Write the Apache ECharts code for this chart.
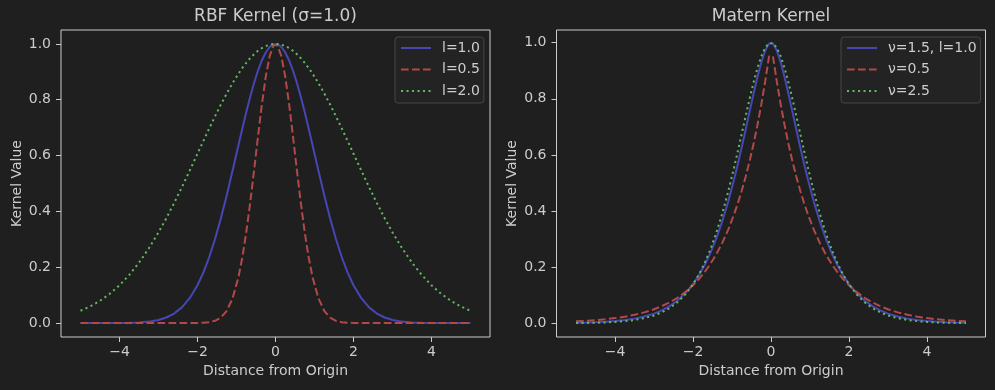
<!DOCTYPE html>
<html>
<head>
<meta charset="utf-8">
<script src="https://cdn.jsdelivr.net/npm/echarts@6/dist/echarts.min.js"></script>
<style>
html,body{margin:0;padding:0;background:#1f1f1f;}
#chart{width:995px;height:390px;}
</style>
</head>
<body>
<div id="chart"></div>
<script>
// x positions (distance from origin)
const xs = [-5.0,-4.75,-4.5,-4.25,-4.0,-3.75,-3.5,-3.25,-3.0,-2.8,-2.6,-2.4,-2.2,-2.0,-1.85,-1.7,-1.55,-1.4,-1.25,-1.1,-0.95,-0.85,-0.75,-0.65,-0.55,-0.45,-0.35,-0.25,-0.15,-0.05,
            0.05,0.15,0.25,0.35,0.45,0.55,0.65,0.75,0.85,0.95,1.1,1.25,1.4,1.55,1.7,1.85,2.0,2.2,2.4,2.6,2.8,3.0,3.25,3.5,3.75,4.0,4.25,4.5,4.75,5.0];

// RBF kernel, l = 1.0
const rbfL1 = [0,0,0,0.0001,0.0003,0.0009,0.0022,0.0051,0.0111,0.0198,0.0340,0.0561,0.0889,0.1353,0.1806,0.2357,0.3008,0.3753,0.4578,0.5461,0.6368,0.6968,0.7548,0.8096,0.8596,0.9037,0.9406,0.9692,0.9888,0.9988,
               0.9988,0.9888,0.9692,0.9406,0.9037,0.8596,0.8096,0.7548,0.6968,0.6368,0.5461,0.4578,0.3753,0.3008,0.2357,0.1806,0.1353,0.0889,0.0561,0.0340,0.0198,0.0111,0.0051,0.0022,0.0009,0.0003,0.0001,0,0,0];
// RBF kernel, l = 0.5
const rbfL05 = [0,0,0,0,0,0,0,0,0,0,0,0,0.0001,0.0003,0.0011,0.0031,0.0082,0.0198,0.0439,0.0889,0.1645,0.2357,0.3247,0.4296,0.5461,0.6670,0.7827,0.8825,0.9560,0.9950,
                0.9950,0.9560,0.8825,0.7827,0.6670,0.5461,0.4296,0.3247,0.2357,0.1645,0.0889,0.0439,0.0198,0.0082,0.0031,0.0011,0.0003,0.0001,0,0,0,0,0,0,0,0,0,0,0,0];
// RBF kernel, l = 2.0
const rbfL2 = [0.0439,0.0596,0.0796,0.1046,0.1353,0.1724,0.2163,0.2671,0.3247,0.3753,0.4296,0.4868,0.5461,0.6065,0.6519,0.6968,0.7406,0.7827,0.8226,0.8596,0.8933,0.9137,0.9321,0.9486,0.9629,0.9750,0.9848,0.9922,0.9972,0.9997,
               0.9997,0.9972,0.9922,0.9848,0.9750,0.9629,0.9486,0.9321,0.9137,0.8933,0.8596,0.8226,0.7827,0.7406,0.6968,0.6519,0.6065,0.5461,0.4868,0.4296,0.3753,0.3247,0.2671,0.2163,0.1724,0.1353,0.1046,0.0796,0.0596,0.0439];

// Matern kernel, nu = 1.5, l = 1.0
const matern15 = [0.0017,0.0025,0.0036,0.0053,0.0078,0.0113,0.0165,0.0238,0.0343,0.0458,0.0609,0.0807,0.1065,0.1397,0.1707,0.2076,0.2515,0.3031,0.3632,0.4323,0.5104,0.5672,0.6272,0.6896,0.7532,0.8162,0.8760,0.9294,0.9716,0.9965,
                  0.9965,0.9716,0.9294,0.8760,0.8162,0.7532,0.6896,0.6272,0.5672,0.5104,0.4323,0.3632,0.3031,0.2515,0.2076,0.1707,0.1397,0.1065,0.0807,0.0609,0.0458,0.0343,0.0238,0.0165,0.0113,0.0078,0.0053,0.0036,0.0025,0.0017];
// Matern kernel, nu = 0.5
const matern05 = [0.0067,0.0087,0.0111,0.0143,0.0183,0.0235,0.0302,0.0388,0.0498,0.0608,0.0743,0.0907,0.1108,0.1353,0.1572,0.1827,0.2123,0.2466,0.2865,0.3329,0.3867,0.4274,0.4724,0.5221,0.5770,0.6376,0.7047,0.7788,0.8607,0.9512,
                  0.9512,0.8607,0.7788,0.7047,0.6376,0.5770,0.5221,0.4724,0.4274,0.3867,0.3329,0.2865,0.2466,0.2123,0.1827,0.1572,0.1353,0.1108,0.0907,0.0743,0.0608,0.0498,0.0388,0.0302,0.0235,0.0183,0.0143,0.0111,0.0087,0.0067];
// Matern kernel, nu = 2.5
const matern25 = [0.0008,0.0012,0.0019,0.0030,0.0048,0.0075,0.0117,0.0181,0.0277,0.0388,0.0540,0.0746,0.1022,0.1387,0.1732,0.2149,0.2646,0.3232,0.3911,0.4680,0.5532,0.6135,0.6756,0.7381,0.7993,0.8569,0.9084,0.9510,0.9817,0.9979,
                  0.9979,0.9817,0.9510,0.9084,0.8569,0.7993,0.7381,0.6756,0.6135,0.5532,0.4680,0.3911,0.3232,0.2646,0.2149,0.1732,0.1387,0.1022,0.0746,0.0540,0.0388,0.0277,0.0181,0.0117,0.0075,0.0048,0.0030,0.0019,0.0012,0.0008];

// tick values and labels
const xTickValues = [-4, -2, 0, 2, 4];
const xTickLabels = ['\u22124', '\u22122', '0', '2', '4'];
const yTickValues = [0, 0.2, 0.4, 0.6, 0.8, 1.0];
const yTickLabels = ['0.0', '0.2', '0.4', '0.6', '0.8', '1.0'];

const leftNames = ['l=1.0', 'l=0.5', 'l=2.0'];
const rightNames = ['\u03bd=1.5, l=1.0', '\u03bd=0.5', '\u03bd=2.5'];
const titles = ['RBF Kernel (\u03c3=1.0)', 'Matern Kernel'];
const xName = 'Distance from Origin';
const yName = 'Kernel Value';

const FONT = 'DejaVu Sans';
const TXT = '#cccccc';
const FRAME = '#cccccc';
const BLUE = '#4646b4';
const RED = '#b24848';
const GREEN = '#62b862';
const LW = 2;

function pairs(ys){ return xs.map((x,i)=>[x, ys[i]]); }

function xAxisCfg(idx){
  return {
    type:'value', gridIndex: idx, min:-5.5, max:5.5,
    name: xName, nameLocation:'middle', nameGap: 27,
    nameTextStyle:{color:TXT, fontSize:14, fontFamily:FONT},
    axisLine:{show:false, onZero:false},
    splitLine:{show:false},
    axisTick:{show:true, length:5, inside:false, customValues:xTickValues, lineStyle:{color:FRAME, width:1}},
    axisLabel:{show:true, margin:8, color:TXT, fontSize:14, fontFamily:FONT, customValues:xTickValues,
      formatter:(v)=>{ const k = xTickValues.indexOf(Math.round(v)); return k>=0 ? xTickLabels[k] : ''; }}
  };
}
function yAxisCfg(idx, mn, mx){
  return {
    type:'value', gridIndex: idx, min:mn, max:mx,
    name: yName, nameLocation:'middle', nameGap: 37, nameRotate: 90,
    nameTextStyle:{color:TXT, fontSize:14, fontFamily:FONT},
    axisLine:{show:false, onZero:false},
    splitLine:{show:false},
    axisTick:{show:true, length:5, inside:false, customValues:yTickValues, lineStyle:{color:FRAME, width:1}},
    axisLabel:{show:true, margin:10, color:TXT, fontSize:14, fontFamily:FONT, customValues:yTickValues,
      formatter:(v)=>{ const k = yTickValues.findIndex(t=>Math.abs(t-v)<1e-6); return k>=0 ? yTickLabels[k] : ''; }}
  };
}
function lineSeries(name, ys, idx, color, type){
  return {
    type:'line', name, xAxisIndex:idx, yAxisIndex:idx, data:pairs(ys),
    showSymbol:false, symbol:'none', smooth:false, clip:true,
    lineStyle:{color, width:LW, type, cap:'butt'},
    itemStyle:{color},
    emphasis:{disabled:true}
  };
}
function legendCfg(names, left){
  return {
    show:true, orient:'vertical', left, top:37, data:names,
    itemWidth:30, itemHeight:14, itemGap:7.5,
    padding:[4,4,5,5],
    backgroundColor:'#232323', borderColor:'#464646', borderWidth:1, borderRadius:3,
    itemStyle:{opacity:0, color:'transparent', borderWidth:0},
    textStyle:{color:TXT, fontSize:14, fontFamily:FONT, padding:[0,0,0,6]},
    selectedMode:false
  };
}

const chart = echarts.init(document.getElementById('chart'), null, {renderer:'canvas'});
chart.setOption({
  backgroundColor:'#1f1f1f',
  animation:false,
  textStyle:{fontFamily:FONT},
  title:[
    {text:titles[0], left:275.5, top:8.5, textAlign:'center', padding:0,
     textStyle:{color:TXT, fontSize:17, fontWeight:'normal', fontFamily:FONT}},
    {text:titles[1], left:771, top:8.5, textAlign:'center', padding:0,
     textStyle:{color:TXT, fontSize:17, fontWeight:'normal', fontFamily:FONT}}
  ],
  grid:[
    {left:61, top:30, width:429, height:307, show:true, borderColor:FRAME, borderWidth:1, backgroundColor:'transparent', containLabel:false},
    {left:556.5, top:30, width:429, height:307, show:true, borderColor:FRAME, borderWidth:1, backgroundColor:'transparent', containLabel:false}
  ],
  xAxis:[xAxisCfg(0), xAxisCfg(1)],
  yAxis:[yAxisCfg(0, -0.05, 1.0497), yAxisCfg(1, -0.049, 1.045)],
  legend:[legendCfg(leftNames, 395), legendCfg(rightNames, 841)],
  tooltip:{show:false},
  series:[
    lineSeries(leftNames[0], rbfL1, 0, BLUE, 'solid'),
    lineSeries(leftNames[1], rbfL05, 0, RED, [7.7, 3.3]),
    lineSeries(leftNames[2], rbfL2, 0, GREEN, [2.1, 3.4]),
    lineSeries(rightNames[0], matern15, 1, BLUE, 'solid'),
    lineSeries(rightNames[1], matern05, 1, RED, [7.7, 3.3]),
    lineSeries(rightNames[2], matern25, 1, GREEN, [2.1, 3.4])
  ]
});
</script>
</body>
</html>
